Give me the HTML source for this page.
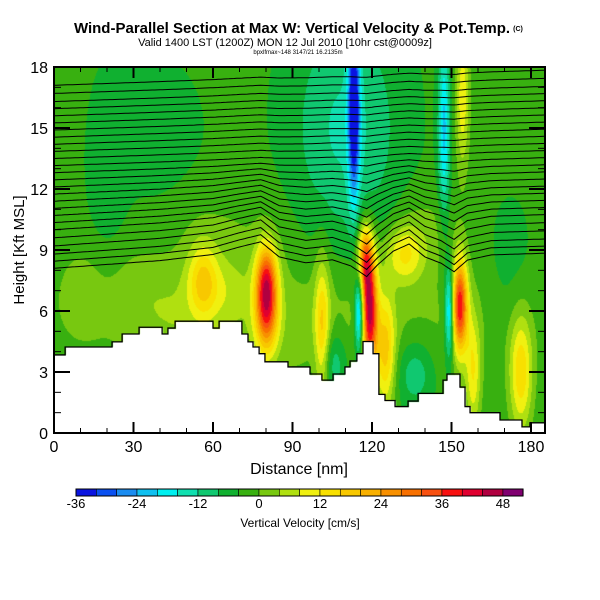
<!DOCTYPE html>
<html><head><meta charset="utf-8"><style>
body{margin:0;background:#fff;width:600px;height:600px;overflow:hidden;position:relative;font-family:"Liberation Sans",sans-serif}
#fld{position:absolute;left:54px;top:67px}
svg{position:absolute;left:0;top:0}
</style></head><body>
<canvas id="fld" width="491" height="366"></canvas>
<svg id="ov" width="600" height="600"></svg>
<script>
// ---- data ----
const binColors=["#0a14e0","#0a50f0","#1a8cf0","#10c0f0","#00f0f0","#10e0b0","#10c870","#10b030","#38b010","#78c810","#b0e010","#f0f010","#f8e000","#f8c800","#f8b000","#f89000","#f87000","#f85010","#f81010","#e00030","#b00040","#800070"];
const cbTicks=[-36,-24,-12,0,12,24,36,48];
const xTicks=[0,30,60,90,120,150,180];
const yTicks=[0,3,6,9,12,15,18];
// blobs: x nm, height kft, sx nm, sy kft, amplitude cm/s
const blobX=[80,80,56,45,30,117,119,115,153,149,132,101,125,158,176,113,110,154,147,105,136,10,65,140,20,90,60,172,40];
const blobH=[6.5,8,7.5,6,7,8.5,6,6,6.3,6,8.8,5,4,3,3,16,15,16.5,15,3.5,3,7,7,10,13,5.5,10,8,14];
const blobSX=[3,2.5,4,8,8,2,2,1.2,2,1.2,5,2,2.5,2,3,1.5,14,1.8,1.5,4,5,6,6,8,5,60,20,6,12];
const blobSY=[1.6,1,1.3,1.5,1.5,1.2,2,1.5,1.6,1.6,1,2.5,2,2,2,3,4,2.5,3,1.2,1.2,1.5,1.2,1.5,3,2.2,2,2.5,3];
const blobA=[42,10,16,3,3,30,44,-26,40,-22,14,17,18,14,18,-32,-10,14,-18,-10,-9,4,5,4,-4,5,3,-3,-3];
const baseW=-3;
// terrain steps: start distance (nm) and height (kft)
const terrX=[0,4.2,21.9,25.7,32.1,40.8,43.0,45.7,60.0,62.3,70.9,73.2,75.1,77.4,79.6,88.3,96.6,101.1,105.3,109.8,111.7,114.3,116.6,120.4,122.6,124.9,128.7,133.6,137.4,146.8,148.3,153.2,155.1,157.0,168.3,176.6,179.6];
const terrH=[3.84,4.23,4.48,4.87,5.2,4.87,5.16,5.5,5.16,5.5,4.87,4.48,4.23,3.9,3.5,3.25,2.9,2.6,2.9,3.25,3.54,3.9,4.5,3.9,1.9,1.6,1.3,1.57,1.95,2.6,2.9,2.26,1.3,1.0,0.64,0.3,0.5];
// potential temperature contours: height at left edge (kft)
const thetaLeft=[17.1,16.7,16.3,15.95,15.6,15.25,14.9,14.55,14.2,13.85,13.5,13.15,12.8,12.45,12.1,11.75,11.4,11.05,10.7,10.35,10,9.6,9.2,8.8,8.45,8.1];
const pertX=[0,20,40,60,70,78,85,95,105,112,118,122,128,134,140,146,151,156,165,186];
const pertY=[0,0.1,0.2,0.4,0.7,0.9,0.2,-0.1,0,-0.3,-0.8,-0.3,0.3,0.6,0,-0.3,-0.7,-0.2,0,0];
// ---- axes ----
const X0=54,X1=545,Y0=433,Y1=67;
const xs=d=>X0+d*2.65, ys=h=>Y0-h*(Y0-Y1)/18;
const cbx=v=>76+(v+36)*(20.33/4);
function terrAt(d){let h=terrH[0];for(let i=0;i<terrX.length;i++)if(d>=terrX[i])h=terrH[i];return h;}
function pert(d){for(let i=0;i<pertX.length-1;i++)if(d>=pertX[i]&&d<=pertX[i+1]){const t=(d-pertX[i])/(pertX[i+1]-pertX[i]);return pertY[i]+t*(pertY[i+1]-pertY[i]);}return 0;}
// ---- field ----
const cv=document.getElementById('fld'),cx=cv.getContext('2d');
const img=cx.createImageData(491,366);
const rgb=binColors.map(c=>[parseInt(c.substr(1,2),16),parseInt(c.substr(3,2),16),parseInt(c.substr(5,2),16)]);
for(let py=0;py<366;py++){const h=(Y0-(Y1+py))*18/(Y0-Y1);
 for(let px=0;px<491;px++){const d=px/2.65;let w=baseW;
  for(let k=0;k<blobX.length;k++){const a=(d-blobX[k])/blobSX[k],b=(h-blobH[k])/blobSY[k];const e=a*a+b*b;if(e<14)w+=blobA[k]*Math.exp(-0.5*e);}
  let o=(py*491+px)*4;let c;
  if(h<terrAt(d)){c=[255,255,255];}else{let bi=Math.floor((w+36)/4);bi=Math.max(0,Math.min(21,bi));c=rgb[bi];}
  img.data[o]=c[0];img.data[o+1]=c[1];img.data[o+2]=c[2];img.data[o+3]=255;}}
cx.putImageData(img,0,0);
// ---- svg ----
const NS="http://www.w3.org/2000/svg",svg=document.getElementById('ov');
function el(t,a,p){const e=document.createElementNS(NS,t);for(const k in a)e.setAttribute(k,a[k]);(p||svg).appendChild(e);return e;}
function tx(s,x,y,size,w,anchor){const e=el('text',{x:x,y:y,'font-size':size,'font-weight':w,'text-anchor':anchor||'middle',fill:'#000'});e.textContent=s;return e;}
// terrain outline
let tp="";for(let i=0;i<terrX.length;i++){const xa=xs(terrX[i]),xb=xs(i+1<terrX.length?terrX[i+1]:185.3);tp+=(i?"L":"M")+xa+","+ys(terrH[i])+"L"+xb+","+ys(terrH[i]);}
const tpath=el('path',{d:tp,fill:'none',stroke:'#000','stroke-width':1.3});


// theta contours
const cg=el('g',{});


thetaLeft.forEach(h0=>{let p="";const amp=Math.max(0.1,Math.min(1.1,(13.5-h0)/4));
 for(let d=0;d<=185.3;d+=1){const h=h0+0.004*d+pert(d)*amp;p+=(d?"L":"M")+xs(d).toFixed(1)+","+ys(h).toFixed(1);}
 const ln=el('path',{d:p,fill:'none',stroke:'#000','stroke-width':1},cg);
 
 });
// frame
const fr=el('rect',{x:X0,y:Y1,width:X1-X0,height:Y0-Y1,fill:'none',stroke:'#000','stroke-width':2});


// ticks
for(let d=0;d<=180;d+=10){const maj=d%30==0,L=maj?11:5;el('line',{x1:xs(d),x2:xs(d),y1:Y0,y2:Y0-L,stroke:'#000','stroke-width':maj?2:1});el('line',{x1:xs(d),x2:xs(d),y1:Y1,y2:Y1+L,stroke:'#000','stroke-width':maj?2:1});}
for(let h=0;h<=18;h++){const maj=h%3==0,L=maj?16:7;el('line',{x1:X0,x2:X0+L,y1:ys(h),y2:ys(h),stroke:'#000','stroke-width':maj?2:1});el('line',{x1:X1,x2:X1-L,y1:ys(h),y2:ys(h),stroke:'#000','stroke-width':maj?2:1});}
xTicks.forEach(v=>{const t=tx(v,xs(v),452,16,'normal');});
yTicks.forEach(v=>{const t=tx(v,48,ys(v)+6,16,'normal','end');});
let xt=tx('Distance [nm]',299,474,16,'normal');
let yt=tx('Height [Kft MSL]',0,0,15,'normal');yt.setAttribute('transform','translate(24,250) rotate(-90)');
// titles
let t1=tx('Wind-Parallel Section at Max W: Vertical Velocity & Pot.Temp.',292,33,15,'bold');
let t1b=tx('(C)',518,31,7,'bold');
let t2=tx('Valid 1400 LST (1200Z) MON 12 Jul 2010 [10hr cst@0009z]',285,46,11,'normal');
let t3=tx('bpxlfmax~148 3147/21 16.2135m',298,54,6,'normal');
// colorbar
const cb=el('g',{});
binColors.forEach((c,i)=>{const r=el('rect',{x:cbx(-36+i*4),y:489,width:20.33,height:7,fill:c,stroke:'#000','stroke-width':0.6},cb);});
el('rect',{x:76,y:489,width:447,height:7,fill:'none',stroke:'#000','stroke-width':1},cb);
cbTicks.forEach(v=>{const t=tx(v,cbx(v),508,13,'normal');});
let ct=tx('Vertical Velocity [cm/s]',300,527,12,'normal');
</script>
</body></html>
